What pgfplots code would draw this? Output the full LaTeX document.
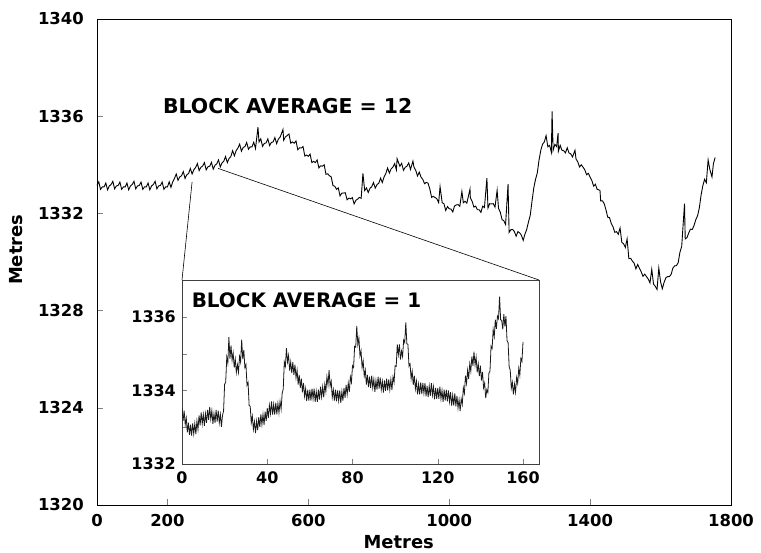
\documentclass[border=0pt]{standalone}
\usepackage{fontspec}
\setmainfont{DejaVu Sans}
\usepackage{pgfplots}
\pgfplotsset{compat=1.18}
\usepackage{pgfplotstable}

\pgfplotstableread{
x y
0 1333.15
5 1333.30
10 1332.99
15 1333.09
20 1333.09
25 1333.25
30 1332.97
35 1333.13
40 1333.19
45 1333.32
50 1333.01
55 1333.13
60 1333.15
65 1333.29
70 1332.99
75 1333.09
80 1333.09
85 1333.25
90 1332.97
95 1333.13
100 1333.19
105 1333.32
110 1333.01
115 1333.13
120 1333.15
125 1333.29
130 1332.99
135 1333.09
140 1333.09
145 1333.25
150 1332.97
155 1333.13
160 1333.19
165 1333.32
170 1333.01
175 1333.13
180 1333.15
185 1333.29
190 1332.99
195 1333.09
200 1333.09
205 1333.30
210 1333.07
215 1333.30
220 1333.44
225 1333.62
230 1333.36
235 1333.50
240 1333.55
245 1333.72
250 1333.44
255 1333.59
260 1333.64
265 1333.85
270 1333.62
275 1333.80
280 1333.89
285 1334.05
290 1333.76
295 1333.90
300 1333.95
305 1334.09
310 1333.79
315 1333.92
320 1333.94
325 1334.10
330 1333.82
335 1333.98
340 1334.04
345 1334.20
350 1333.91
355 1334.08
360 1334.15
365 1334.34
370 1334.09
375 1334.26
380 1334.34
385 1334.58
390 1334.37
395 1334.58
400 1334.69
405 1334.85
410 1334.56
415 1334.71
420 1334.75
425 1334.92
430 1334.64
435 1334.74
440 1334.74
445 1334.93
450 1334.67
457 1335.55
460 1334.94
465 1335.07
470 1334.76
475 1334.88
480 1334.90
485 1335.07
490 1334.79
495 1334.92
500 1334.94
505 1335.12
510 1334.87
515 1335.06
520 1335.14
528 1335.45
530 1335.01
535 1335.15
540 1335.20
545 1335.27
550 1334.89
555 1334.94
560 1334.89
565 1334.98
570 1334.62
575 1334.70
580 1334.69
585 1334.75
590 1334.36
595 1334.40
600 1334.35
605 1334.44
610 1334.09
615 1334.14
620 1334.09
625 1334.20
630 1333.87
635 1333.96
640 1333.94
645 1334.00
650 1333.61
655 1333.63
660 1333.55
665 1333.50
670 1333.14
675 1333.12
680 1332.99
685 1333.05
690 1332.72
695 1332.83
700 1332.84
705 1332.85
710 1332.56
715 1332.63
720 1332.60
725 1332.65
730 1332.39
735 1332.54
740 1332.59
745 1332.66
750 1332.62
755 1333.65
760 1332.94
765 1333.05
770 1332.86
775 1333.03
780 1333.10
785 1333.27
790 1333.04
795 1333.19
800 1333.24
805 1333.45
810 1333.27
815 1333.50
820 1333.64
825 1333.87
830 1333.66
835 1333.83
840 1333.90
845 1334.05
850 1333.79
852 1334.25
860 1333.94
865 1334.06
870 1333.77
875 1333.90
880 1333.94
885 1334.08
890 1333.81
897 1334.15
900 1333.90
905 1333.77
910 1333.54
915 1333.70
920 1333.49
925 1333.40
930 1333.22
935 1333.28
940 1333.24
945 1333.00
950 1332.66
955 1332.70
960 1332.65
965 1332.60
970 1332.44
974 1333.10
980 1332.44
985 1332.40
990 1332.12
995 1332.28
1000 1332.19
1005 1332.18
1010 1332.06
1015 1332.30
1020 1332.35
1025 1332.36
1030 1332.29
1036 1332.90
1040 1332.44
1045 1332.50
1050 1332.42
1059 1333.00
1060 1332.64
1065 1332.50
1070 1332.26
1075 1332.30
1080 1332.15
1085 1332.15
1090 1332.04
1095 1332.30
1100 1332.24
1107 1333.45
1110 1332.22
1115 1332.40
1120 1332.39
1125 1332.40
1130 1332.26
1136 1332.95
1140 1332.20
1145 1332.05
1150 1331.74
1155 1331.70
1160 1331.54
1167 1333.20
1170 1331.22
1175 1331.33
1180 1331.34
1185 1331.25
1190 1331.06
1195 1331.25
1200 1331.20
1205 1331.10
1210 1330.89
1215 1331.15
1220 1331.34
1225 1331.65
1230 1331.92
1235 1332.50
1240 1333.04
1245 1333.40
1250 1333.66
1255 1334.20
1260 1334.60
1265 1334.85
1270 1334.94
1275 1335.20
1280 1334.74
1285 1334.80
1290 1334.52
1292 1336.20
1295 1334.60
1300 1334.84
1305 1334.75
1309 1335.30
1310 1334.56
1315 1334.80
1320 1334.60
1325 1334.58
1330 1334.49
1335 1334.70
1340 1334.49
1345 1334.45
1350 1334.32
1357 1334.60
1360 1334.24
1365 1334.12
1370 1333.91
1375 1334.00
1380 1333.90
1385 1333.79
1390 1333.59
1395 1333.65
1400 1333.49
1405 1333.35
1410 1333.12
1415 1333.20
1420 1332.99
1428 1332.95
1430 1332.51
1435 1332.52
1440 1332.40
1445 1332.15
1450 1331.84
1455 1331.83
1460 1331.59
1465 1331.45
1470 1331.22
1475 1331.25
1480 1331.14
1485 1331.40
1490 1330.81
1495 1330.75
1500 1330.60
1505 1330.95
1510 1330.14
1515 1330.15
1520 1330.04
1525 1329.95
1530 1329.72
1535 1329.90
1540 1329.74
1545 1329.60
1550 1329.41
1555 1329.50
1560 1329.40
1565 1329.30
1570 1329.14
1575 1329.70
1580 1329.09
1585 1329.00
1590 1328.87
1595 1329.75
1600 1329.19
1605 1328.90
1610 1329.16
1615 1329.35
1620 1329.40
1625 1329.40
1630 1329.49
1635 1329.75
1640 1329.84
1645 1329.85
1650 1329.97
1655 1330.40
1660 1330.64
1668 1332.40
1670 1330.95
1675 1331.00
1680 1331.20
1685 1331.35
1690 1331.34
1695 1331.50
1700 1331.74
1705 1331.90
1710 1332.22
1715 1332.75
1720 1333.14
1725 1333.40
1730 1333.26
1735 1334.20
1740 1333.80
1746 1333.50
1750 1334.04
1755 1334.30
}\maindata

\pgfplotstableread{
x y
0 1333.52
0.5 1333.17
1 1333.45
1.5 1333.07
2 1333.25
2.5 1332.86
3 1333.12
3.5 1332.79
4 1333.07
4.5 1332.77
5 1333.10
5.5 1332.82
6 1333.10
6.5 1332.81
7 1333.17
7.5 1332.94
8 1333.32
8.5 1333.05
9 1333.40
9.5 1333.09
10 1333.35
10.5 1333.04
11 1333.37
11.5 1333.12
12 1333.47
12.5 1333.20
13 1333.55
13.5 1333.22
14 1333.45
14.5 1333.09
15 1333.37
15.5 1333.12
16 1333.47
16.5 1333.15
17 1333.45
17.5 1333.12
18 1333.35
18.5 1333.01
19 1333.32
19.5 1333.44
20 1334.17
20.5 1334.22
21 1334.90
21.5 1334.74
22 1335.45
22.5 1334.86
23 1335.22
23.5 1334.82
24 1335.02
24.5 1334.62
25 1334.85
25.5 1334.49
26 1334.70
26.5 1334.49
27 1334.92
27.5 1334.77
28 1335.38
28.5 1334.85
29 1335.10
29.5 1334.62
30 1334.70
30.5 1334.14
31 1334.22
31.5 1333.59
32 1333.57
32.5 1333.12
33 1333.30
33.5 1332.94
34 1333.15
34.5 1332.84
35 1333.17
35.5 1332.92
36 1333.27
36.5 1333.00
37 1333.35
37.5 1333.07
38 1333.35
38.5 1333.06
39 1333.42
39.5 1333.17
40 1333.52
40.5 1333.25
41 1333.60
41.5 1333.37
42 1333.70
42.5 1333.34
43 1333.62
43.5 1333.34
44 1333.67
44.5 1333.35
45 1333.65
45.5 1333.39
46 1333.70
46.5 1333.49
47 1333.92
47.5 1334.04
48 1334.77
48.5 1334.65
49 1335.15
49.5 1334.77
50 1334.95
50.5 1334.54
51 1334.77
51.5 1334.47
52 1334.77
52.5 1334.42
53 1334.70
53.5 1334.34
54 1334.55
54.5 1334.16
55 1334.42
55.5 1334.07
56 1334.32
56.5 1333.95
57 1334.20
57.5 1333.84
58 1334.05
58.5 1333.71
59 1334.02
59.5 1333.72
60 1334.02
60.5 1333.72
61 1334.05
61.5 1333.77
62 1334.05
62.5 1333.69
63 1333.97
63.5 1333.69
64 1334.02
64.5 1333.75
65 1334.10
65.5 1333.82
66 1334.10
66.5 1333.81
67 1334.17
67.5 1333.97
68 1334.37
68.5 1334.15
69 1334.55
69.5 1334.12
70 1334.25
70.5 1333.81
71 1334.02
71.5 1333.72
72 1334.02
72.5 1333.70
73 1334.00
73.5 1333.72
74 1334.00
74.5 1333.66
75 1333.97
75.5 1333.72
76 1334.07
76.5 1333.80
77 1334.15
77.5 1333.89
78 1334.20
78.5 1333.96
79 1334.37
79.5 1334.22
80 1334.67
80.5 1334.62
81 1335.20
81.5 1335.17
82 1335.75
82.5 1335.24
83 1335.42
83.5 1334.94
84 1335.07
84.5 1334.62
85 1334.80
85.5 1334.39
86 1334.55
86.5 1334.16
87 1334.42
87.5 1334.09
88 1334.37
88.5 1334.07
89 1334.40
89.5 1334.07
90 1334.30
90.5 1333.96
91 1334.27
91.5 1334.02
92 1334.37
92.5 1334.05
93 1334.35
93.5 1334.02
94 1334.25
94.5 1333.94
95 1334.27
95.5 1333.99
96 1334.32
96.5 1334.00
97 1334.30
97.5 1334.02
98 1334.30
98.5 1334.01
99 1334.37
99.5 1334.22
100 1334.67
100.5 1334.65
101 1335.25
101.5 1334.97
102 1335.25
102.5 1334.84
103 1335.07
103.5 1334.92
104 1335.37
104.5 1335.30
105 1335.85
105.5 1335.27
106 1335.25
106.5 1334.66
107 1334.72
107.5 1334.32
108 1334.52
108.5 1334.15
109 1334.40
109.5 1334.04
110 1334.25
110.5 1333.89
111 1334.17
111.5 1333.89
112 1334.22
112.5 1333.90
113 1334.20
113.5 1333.92
114 1334.20
114.5 1333.84
115 1334.12
115.5 1333.82
116 1334.12
116.5 1333.85
117 1334.20
117.5 1333.87
118 1334.10
118.5 1333.76
119 1334.07
119.5 1333.77
120 1334.07
120.5 1333.77
121 1334.10
121.5 1333.77
122 1334.00
122.5 1333.69
123 1334.02
123.5 1333.72
124 1334.02
124.5 1333.70
125 1334.00
125.5 1333.69
126 1333.95
126.5 1333.59
127 1333.87
127.5 1333.59
128 1333.92
128.5 1333.57
129 1333.85
129.5 1333.52
130 1333.75
130.5 1333.44
131 1333.77
131.5 1333.62
132 1334.07
132.5 1333.92
133 1334.40
133.5 1334.19
134 1334.55
134.5 1334.31
135 1334.72
135.5 1334.52
136 1334.92
136.5 1334.67
137 1335.05
137.5 1334.69
138 1334.90
138.5 1334.49
139 1334.72
139.5 1334.39
140 1334.67
140.5 1334.27
141 1334.50
141.5 1334.07
142 1334.20
142.5 1333.79
143 1334.02
143.5 1333.94
144 1334.47
144.5 1334.52
145 1335.20
145.5 1335.14
146 1335.65
146.5 1335.46
147 1335.92
147.5 1335.67
148 1336.02
148.5 1335.95
149 1336.55
149.5 1335.92
150 1335.90
150.5 1335.66
151 1336.07
151.5 1335.74
152 1336.02
152.5 1335.35
153 1335.30
153.5 1334.64
154 1334.55
154.5 1334.06
155 1334.22
155.5 1333.89
156 1334.17
156.5 1333.95
157 1334.35
157.5 1334.19
158 1334.60
158.5 1334.41
159 1334.87
159.5 1334.79
160 1335.32
}\insetdata

\begin{document}
\begin{tikzpicture}
\useasboundingbox (0,0) rectangle (761bp,553bp);
\begin{axis}[
  name=main, at={(97bp,48bp)}, anchor=south west,
  scale only axis, width=634bp, height=486bp,
  xmin=0, xmax=1800, ymin=1320, ymax=1340,
  xtick={0,200,600,1000,1400,1800}, ytick={1320,1324,1328,1332,1336,1340},
  xtick pos=bottom, ytick pos=left, tick align=inside, major tick length=6bp,
  /pgf/number format/assume math mode=true, /pgf/number format/1000 sep={},
  tick label style={font=\fontsize{16.5}{16.5}\selectfont\bfseries},
  yticklabel style={inner sep=0pt, xshift=-13bp},
  xticklabel style={inner sep=0pt, yshift=-9bp},
  xlabel={Metres}, ylabel={Metres},
  label style={font=\fontsize{18}{18}\selectfont\bfseries, inner sep=0pt},
  xlabel style={at={(rel axis cs:0.476,-0.076)}, anchor=center},
  ylabel style={at={(rel axis cs:-0.128,0.525)}, anchor=center},
  axis line style={line width=0.8pt},
  clip=false,
]
\addplot[black, line width=0.9pt] table[x=x,y=y]{\maindata};
\coordinate (p1) at (axis cs:270,1333.3);
\coordinate (p2) at (axis cs:344,1333.85);
\node[anchor=west, inner sep=0pt, font=\fontsize{20.5}{20.5}\selectfont\bfseries] at (axis cs:187,1336.42) {BLOCK AVERAGE = 12};
\end{axis}
\begin{axis}[
  name=inset, at={(182bp,89bp)}, anchor=south west,
  scale only axis, width=357bp, height=184bp,
  xmin=0, xmax=167.5, ymin=1332, ymax=1337,
  xtick={0,40,80,120,160}, ytick={1332,1334,1336}, minor ytick={1333,1335},
  xtick pos=bottom, ytick pos=left, tick align=inside,
  major tick length=5bp, minor tick length=5bp,
  /pgf/number format/assume math mode=true, /pgf/number format/1000 sep={},
  tick label style={font=\fontsize{16}{16}\selectfont\bfseries},
  yticklabel style={inner sep=0pt, xshift=-6bp},
  xticklabel style={inner sep=0pt, yshift=-7bp},
  axis background/.style={fill=white},
  axis line style={line width=0.8pt, black!75},
]
\addplot[black!90, line width=0.8pt] table[x=x,y=y]{\insetdata};
\node[anchor=west, inner sep=0pt, font=\fontsize{20}{20}\selectfont\bfseries] at (axis cs:4.5,1336.46) {BLOCK AVERAGE = 1};
\end{axis}
\draw[line width=0.6pt] (p1) -- (inset.north west);
\draw[line width=0.6pt] (p2) -- (inset.north east);
\end{tikzpicture}
\end{document}
